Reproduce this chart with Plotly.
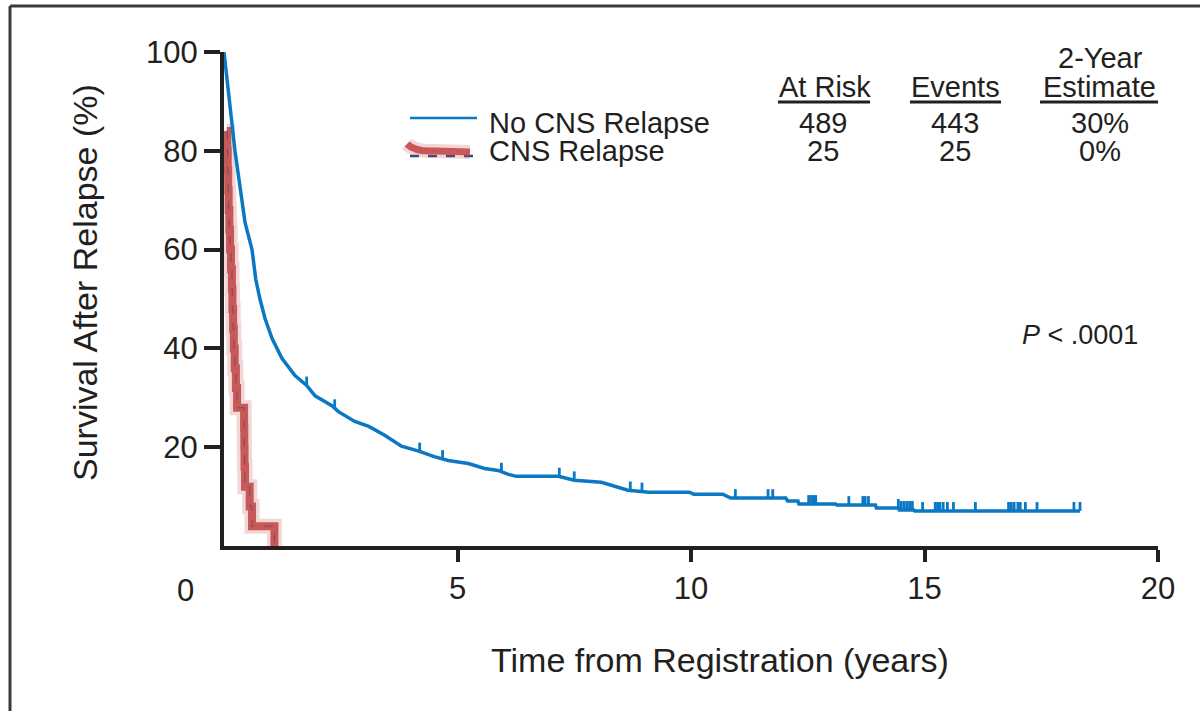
import numpy as np
import plotly.graph_objects as go

# ---------------- data ----------------
no_cns_t = [0, 0.17, 0.235, 0.45, 0.6, 0.68, 0.77, 0.88, 1.03, 1.24, 1.52, 1.77, 1.95, 2.31,
            2.45, 2.8, 3.1, 3.44, 3.8, 4.17, 4.5, 4.8, 5.23, 5.58, 5.87, 6.09, 6.26, 7.16, 7.5,
            8.08, 8.35, 8.65, 9.1, 9.96, 10.06, 10.68, 10.85, 12.03, 12.07, 12.29, 12.31, 13.1,
            13.12, 13.95, 13.97, 14.44, 14.46, 14.77, 14.79, 18.33]
no_cns_s = [100, 85.7, 80, 65.5, 60, 54, 50, 46, 42, 38, 34.5, 32.5, 30.4, 28.4,
            27.2, 25.2, 24.2, 22.4, 20.2, 19.2, 18.1, 17.3, 16.7, 15.7, 15.3, 14.5, 14.1, 14.1, 13.3,
            12.9, 12.1, 11.3, 10.9, 10.9, 10.5, 10.5, 9.7, 9.7, 9.1, 9.1, 8.5, 8.5,
            8.3, 8.3, 7.7, 7.7, 7.3, 7.3, 7.1, 7.1]
no_cns_censor = [1.77, 2.37, 4.19, 4.68, 5.94, 7.18, 7.5, 8.7, 8.95, 10.95, 11.65, 11.75,
                 12.52, 12.58, 12.63, 12.67, 13.38, 13.68, 13.73, 13.8, 14.44, 14.5, 14.56,
                 14.62, 14.68, 14.74, 14.96, 15.23, 15.28, 15.33, 15.4, 15.49, 15.62, 16.09,
                 16.8, 16.86, 16.92, 17.0, 17.05, 17.16, 17.41, 18.2, 18.33]

cns_t = [0.06, 0.07, 0.08, 0.09, 0.10, 0.115, 0.13, 0.15, 0.17, 0.18, 0.195, 0.21, 0.23,
         0.255, 0.28, 0.43, 0.435, 0.44, 0.45, 0.55, 0.60, 1.08]
cns_s = [84, 80, 76, 72, 68, 64, 60, 56, 52, 48, 44, 40, 36, 32, 28, 24, 20, 16, 12, 8, 4, 0]

x_ticks = [5, 10, 15, 20]
y_ticks = [20, 40, 60, 80, 100]

series_names = ["No CNS Relapse", "CNS Relapse"]
at_risk = ["489", "25"]
events = ["443", "25"]
estimate = ["30%", "0%"]

# ---------------- styling ----------------
BLUE = "#0a78c2"
INK = "#231f20"
FONT = "Liberation Sans, Arial, sans-serif"
L, R, T, B = 224, 42, 52, 165
W, H = 1200, 711
PW, PH = W - L - R, H - T - B


def xp(px):
    return (px - L) / PW


def yp(py):
    return (H - B - py) / PH


fig = go.Figure()

# CNS relapse: glow + red highlight + dashed dark line
fig.add_trace(go.Scatter(x=cns_t, y=cns_s, mode="lines", line=dict(color="rgba(200,70,70,0.22)", width=15, shape="hv"),
                         hoverinfo="skip", showlegend=False))
fig.add_trace(go.Scatter(x=cns_t, y=cns_s, mode="lines", line=dict(color="rgba(196,78,78,0.92)", width=8, shape="hv"),
                         name=series_names[1], showlegend=False))
fig.add_trace(go.Scatter(x=cns_t, y=cns_s, mode="lines", line=dict(color="rgba(50,60,110,0.45)", width=1.2, dash="dash", shape="hv"),
                         hoverinfo="skip", showlegend=False))

# No CNS relapse curve
fig.add_trace(go.Scatter(x=no_cns_t, y=no_cns_s, mode="lines", line=dict(color=BLUE, width=3.5),
                         name=series_names[0], showlegend=False))

# censor marks (vertical ticks rising from the curve)
cx, cy = [], []
for t in no_cns_censor:
    s = float(np.interp(t, no_cns_t, no_cns_s))
    cx += [t, t, None]
    cy += [s, s + 1.8, None]
fig.add_trace(go.Scatter(x=cx, y=cy, mode="lines", line=dict(color=BLUE, width=2.8),
                         hoverinfo="skip", showlegend=False))

shapes = []
ann = []


def text(s, px, py, size=29, xanchor="center", **kw):
    ann.append(dict(text=s, x=xp(px), y=yp(py), xref="paper", yref="paper", showarrow=False,
                    xanchor=xanchor, yanchor="middle", font=dict(family=FONT, size=size, color=INK), **kw))


# frame
shapes.append(dict(type="line", xref="paper", yref="paper", x0=xp(10), x1=xp(1205), y0=yp(6), y1=yp(6),
                   line=dict(color="#3a3a3a", width=3)))
shapes.append(dict(type="line", xref="paper", yref="paper", x0=xp(10), x1=xp(10), y0=yp(6), y1=yp(716),
                   line=dict(color="#3a3a3a", width=3)))

# legend
shapes.append(dict(type="line", xref="paper", yref="paper", x0=xp(410), x1=xp(477), y0=yp(118), y1=yp(118),
                   line=dict(color=BLUE, width=2.5)))
shapes.append(dict(type="line", xref="paper", yref="paper", x0=xp(410), x1=xp(477), y0=yp(156), y1=yp(156),
                   line=dict(color="#2d4a80", width=2.5, dash="dash")))
path = "M {} {} Q {} {} {} {} L {} {}".format(xp(407), yp(144), xp(415), yp(152), xp(435), yp(151), xp(470), yp(152))
shapes.append(dict(type="path", xref="paper", yref="paper", path=path,
                   line=dict(color="rgba(200,70,70,0.22)", width=14)))
shapes.append(dict(type="path", xref="paper", yref="paper", path=path,
                   line=dict(color="rgba(196,78,78,0.92)", width=7)))
text(series_names[0], 487, 123, xanchor="left")
text(series_names[1], 487, 151, xanchor="left")

# table
text("At Risk", 825, 87)
text("Events", 955, 87)
text("2-Year", 1100, 58)
text("Estimate", 1099, 87)
for a, b in [(778, 870), (910, 1001), (1040, 1158)]:
    shapes.append(dict(type="line", xref="paper", yref="paper", x0=xp(a), x1=xp(b), y0=yp(102), y1=yp(102),
                       line=dict(color=INK, width=3)))
for i, py in enumerate([123, 151]):
    text(at_risk[i], 823, py)
    text(events[i], 955, py)
    text(estimate[i], 1100, py)

text("<i>P</i> < .0001", 1140, 335, size=27, xanchor="right")
text("0", 185, 590, size=31)
text("Time from Registration (years)", 720, 660, size=34)
text("Survival After Relapse (%)", 85, 283, size=34, textangle=-90)

fig.update_layout(
    width=W, height=H, margin=dict(l=L, r=R, t=T, b=B),
    paper_bgcolor="white", plot_bgcolor="white",
    shapes=shapes, annotations=ann, showlegend=False,
    xaxis=dict(range=[0, 20], tickvals=x_ticks, ticktext=[str(v) for v in x_ticks], showgrid=False, zeroline=False,
               showline=True, linecolor=INK, linewidth=4, ticks="outside", ticklen=12, tickwidth=4, tickcolor=INK,
               tickfont=dict(family=FONT, size=31, color=INK)),
    yaxis=dict(range=[0, 100], tickvals=y_ticks, ticktext=[str(v) for v in y_ticks], showgrid=False, zeroline=False,
               showline=True, linecolor=INK, linewidth=4, ticks="outside", ticklen=16, tickwidth=4, tickcolor=INK,
               tickfont=dict(family=FONT, size=31, color=INK)),
)

fig.write_html("out.html")
